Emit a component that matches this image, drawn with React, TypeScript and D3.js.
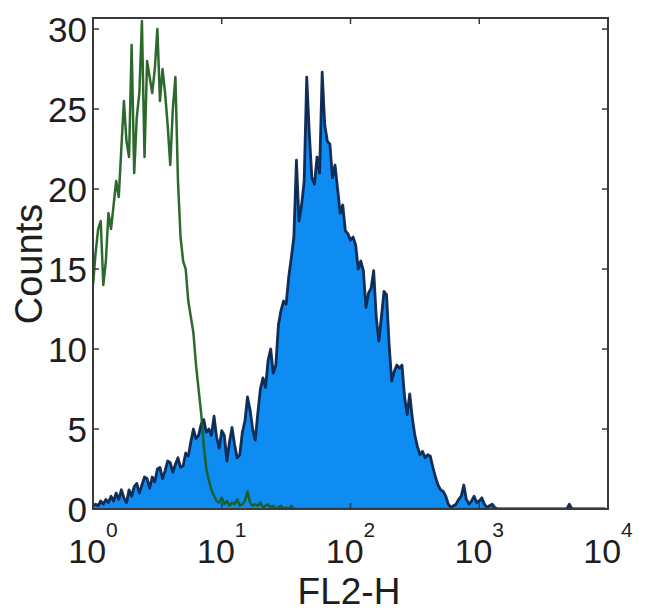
import React from 'react';
import * as d3 from 'd3';

// Histogram channels: 50 channels per decade, channel i sits at 10^(i/50)
const channelsPerDecade = 50;
const channelCount = 200;

// Stained sample (blue filled histogram), counts per channel
const blueCounts = [
  0.2, 0.3, 0.2, 0.5, 0.3, 0.6, 0.4, 0.8, 0.5, 1.0,
  0.6, 1.2, 0.7, 0.4, 1.2, 0.8, 1.4, 1.6, 1.0, 1.5,
  2.0, 1.9, 1.3, 2.0, 1.7, 2.5, 2.6, 1.9, 2.4, 3.0,
  2.9, 2.3, 2.8, 3.2, 2.6, 2.7, 3.5, 3.3, 4.2, 5.0,
  4.4, 4.6, 5.3, 5.6, 4.8, 5.0, 4.6, 5.8, 4.5, 3.8,
  4.9, 4.6, 3.0, 4.2, 5.1, 4.0, 3.2, 3.4, 4.8, 5.5,
  7.0, 6.2, 5.0, 4.3, 6.0, 7.5, 8.2, 7.6, 9.3, 10.0,
  8.5, 9.0, 11.5, 12.4, 13.0, 12.8, 14.5, 15.7, 17.0, 21.8,
  18.0, 19.0, 20.5, 27.0, 23.5, 20.7, 20.3, 22.0, 21.0, 27.3,
  24.0, 23.0, 22.8, 20.7, 21.5, 20.0, 18.5, 19.0, 17.4, 17.2,
  16.8, 17.0, 16.5, 15.0, 15.5, 14.9, 12.6, 13.5, 13.8, 14.9,
  12.0, 10.5, 12.0, 13.6, 13.4, 10.3, 8.0, 8.6, 9.0, 8.8,
  9.0, 7.0, 5.9, 7.2, 5.7, 4.6, 3.9, 3.4, 3.6, 3.2,
  3.4, 3.3, 2.6, 2.0, 1.5, 1.2, 1.1, 0.8, 0.3, 0.1,
  0.2, 0.3, 0.6, 0.8, 1.5, 0.6, 0.3, 0.5, 0.8, 0.4,
  0.5, 0.7, 0.3, 0.1, 0.2, 0.3, 0.1, 0, 0, 0,
  0, 0, 0, 0, 0, 0, 0, 0, 0, 0,
  0, 0, 0, 0, 0, 0, 0, 0, 0, 0,
  0, 0, 0, 0, 0, 0.3, 0, 0, 0, 0,
  0, 0, 0, 0, 0, 0, 0, 0, 0, 0,
];

// Isotype control (green outline histogram), counts per channel
const greenCounts = [
  14, 16, 17.5, 18, 14, 15.5, 18.5, 17.5, 19, 20.5,
  19.5, 22.5, 25.5, 23, 22, 29, 21, 24.5, 26, 30.5,
  22, 28, 27, 26, 27.5, 30, 25.5, 27.5, 26, 24,
  21.5, 25, 27, 20.5, 17, 15.5, 15, 13, 12, 11,
  9, 7.5, 6, 4, 2.5, 1.8, 1.2, 0.8, 0.5, 0.4,
  0.7, 0.3, 0.5, 0.2, 0.4, 0.3, 0.6, 0.2, 0.3, 0.5,
  1.1, 0.4, 0.2, 0.3, 0.2, 0.4, 0.1, 0.2, 0.3, 0.1,
  0.2, 0, 0.1, 0.2, 0, 0.1, 0, 0.2, 0, 0,
];

const xTickExponents = [0, 1, 2, 3, 4];
const yTickValues = [0, 5, 10, 15, 20, 25, 30];
const xLabel = 'FL2-H';
const yLabel = 'Counts';

const W = 650;
const H = 615;
const plot = { left: 93, right: 608, top: 18, bottom: 509 };
const FONT = 'Liberation Sans, Arial, Helvetica, sans-serif';

type Pt = { v: number; c: number };

export default function App() {
  const x = d3.scaleLog().domain([1, 1e4]).range([plot.left, plot.right]);
  const y = d3.scaleLinear().domain([0, 30.69]).range([plot.bottom, plot.top]);

  const toPts = (arr: number[]): Pt[] =>
    d3.range(channelCount).map((i) => ({
      v: Math.pow(10, i / channelsPerDecade),
      c: arr[i] ?? 0,
    }));

  const bluePts = toPts(blueCounts);
  const greenPts = toPts(greenCounts);

  const area = d3
    .area<Pt>()
    .x((d) => x(d.v))
    .y0(y(0))
    .y1((d) => y(d.c));
  const line = d3
    .line<Pt>()
    .x((d) => x(d.v))
    .y((d) => y(d.c));

  const tickLen = 6;
  const axisColor = '#3a3a3a';
  const textColor = '#1e1e1e';

  return (
    <svg
      width={W}
      height={H}
      style={{ position: 'absolute', left: 0, top: 0, background: '#fff' }}
    >
      <defs>
        <clipPath id="plotClip">
          <rect
            x={plot.left}
            y={plot.top}
            width={plot.right - plot.left}
            height={plot.bottom - plot.top}
          />
        </clipPath>
      </defs>
      <rect x={0} y={0} width={W} height={H} fill="#fff" />
      <g clipPath="url(#plotClip)">
        <path d={area(bluePts) ?? ''} fill="#0e8cf2" stroke="none" />
        <path
          d={line(bluePts) ?? ''}
          fill="none"
          stroke="#0a2550"
          strokeWidth={2.8}
          strokeLinejoin="round"
          opacity={0.95}
        />
        <path
          d={line(greenPts) ?? ''}
          fill="none"
          stroke="#1a5c1a"
          strokeWidth={2.5}
          strokeLinejoin="round"
          opacity={0.92}
        />
      </g>

      {/* box */}
      <rect
        x={plot.left}
        y={plot.top}
        width={plot.right - plot.left}
        height={plot.bottom - plot.top}
        fill="none"
        stroke={axisColor}
        strokeWidth={2}
      />

      {/* y ticks (left & right, inward) */}
      {yTickValues.map((t) => (
        <g key={'y' + t}>
          <line
            x1={plot.left}
            x2={plot.left + tickLen}
            y1={y(t)}
            y2={y(t)}
            stroke={axisColor}
            strokeWidth={1.5}
          />
          <line
            x1={plot.right}
            x2={plot.right - tickLen}
            y1={y(t)}
            y2={y(t)}
            stroke={axisColor}
            strokeWidth={1.5}
          />
          <text
            x={87}
            y={y(t)}
            textAnchor="end"
            dominantBaseline="central"
            fontFamily={FONT}
            fontSize={35}
            fill={textColor}
          >
            {t}
          </text>
        </g>
      ))}

      {/* x ticks (bottom & top, inward) */}
      {xTickExponents.map((e) => {
        const px = x(Math.pow(10, e));
        return (
          <g key={'x' + e}>
            <line
              x1={px}
              x2={px}
              y1={plot.bottom}
              y2={plot.bottom - tickLen}
              stroke={axisColor}
              strokeWidth={1.5}
            />
            <line
              x1={px}
              x2={px}
              y1={plot.top}
              y2={plot.top + tickLen}
              stroke={axisColor}
              strokeWidth={1.5}
            />
            <text
              x={px}
              y={563}
              textAnchor="middle"
              fontFamily={FONT}
              fontSize={34}
              fill={textColor}
            >
              10
              <tspan fontSize={21} dy={-26}>
                {e}
              </tspan>
            </text>
          </g>
        );
      })}

      <text
        x={349}
        y={604}
        textAnchor="middle"
        fontFamily={FONT}
        fontSize={37}
        fill={textColor}
      >
        {xLabel}
      </text>
      <text
        transform="translate(42,264) rotate(-90)"
        textAnchor="middle"
        fontFamily={FONT}
        fontSize={38}
        fill={textColor}
      >
        {yLabel}
      </text>
    </svg>
  );
}
